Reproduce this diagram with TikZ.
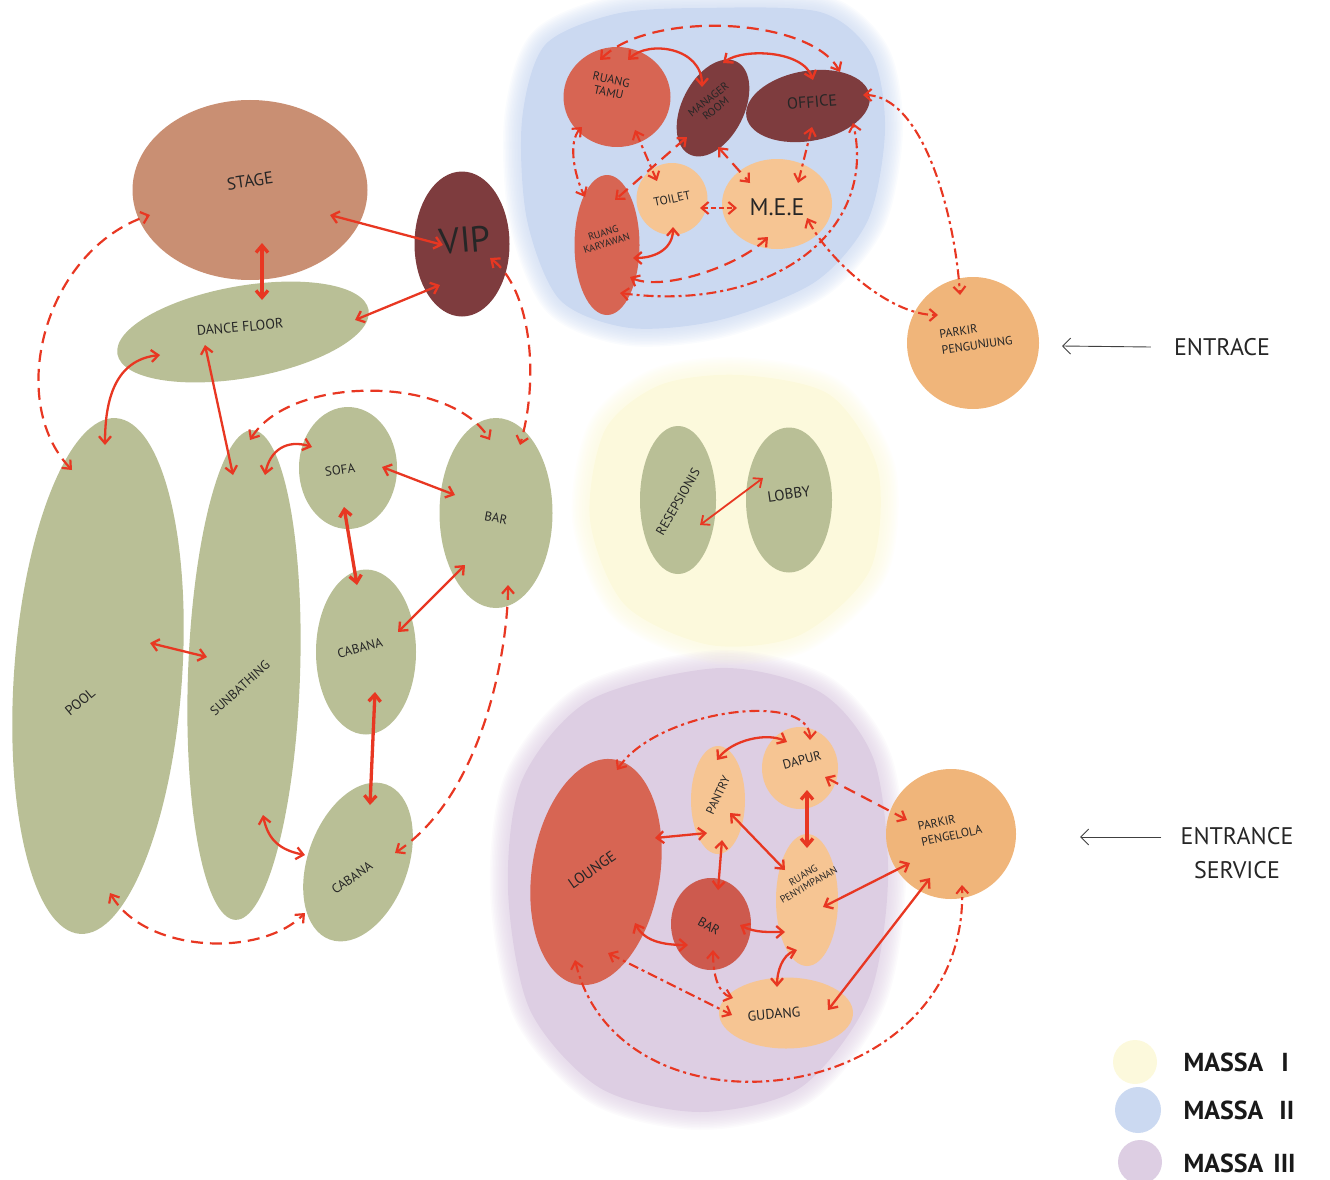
\documentclass[tikz,border=0pt]{standalone}
\usepackage{fontspec}
\setmainfont{PT Sans}
\usepackage{tikz}
\usetikzlibrary{arrows.meta,positioning,calc,shapes.geometric}

\definecolor{linkred}{RGB}{232,55,34}
\definecolor{sage}{RGB}{185,191,150}
\definecolor{clay}{RGB}{201,143,115}
\definecolor{wine}{RGB}{126,60,62}
\definecolor{tomato}{RGB}{215,101,83}
\definecolor{brick}{RGB}{205,90,78}
\definecolor{peach}{RGB}{246,197,147}
\definecolor{apricot}{RGB}{240,181,122}
\definecolor{massaone}{RGB}{252,249,220}
\definecolor{massatwo}{RGB}{203,217,241}
\definecolor{massathree}{RGB}{221,206,227}

\newcommand\roomfont{\fontsize{13}{14}\selectfont}

\tikzset{
  room/.style={ellipse, inner sep=0pt, outer sep=0pt},
  tag/.style={font=\roomfont, text=black!85, align=center, inner sep=1pt},
  link/.style={draw=linkred, line width=2.3pt, <->},
  heavy/.style={link, line width=3.3pt},
  dashlink/.style={link, line width=2.2pt, dash pattern=on 12pt off 7pt},
  dotlink/.style={link, line width=2.1pt, dash pattern=on 10pt off 4pt on 3pt off 4pt},
  shortlink/.style={link, line width=2.1pt, dash pattern=on 5pt off 3pt},
  pointer/.style={draw=black!75, line width=0.9pt, -{Straight Barb[length=8pt,width=16pt]}},
  keyfont/.style={font=\fontsize{26}{28}\selectfont\bfseries, text=black!90},
}

\begin{document}
\begin{tikzpicture}[x=1pt,y=-1pt,>={Straight Barb[length=7pt,width=12pt]}]
\useasboundingbox (0,0) rectangle (1330,1180);

% the three building masses, soft edged
\path[save path=\zoneone] plot[smooth cycle] coordinates {(740,375) (830,395) (878,470) (870,570) (800,635) (710,645) (625,605) (590,520) (605,430) (660,385)};
\path[save path=\zonetwo] plot[smooth cycle] coordinates {(700,8) (820,12) (872,55) (885,130) (868,220) (815,282) (720,320) (630,328) (560,300) (527,220) (522,120) (545,45) (615,14)};
\path[save path=\zonethree] plot[smooth cycle] coordinates {(720,668) (820,692) (874,760) (888,880) (868,1000) (800,1088) (700,1112) (600,1088) (530,1010) (508,890) (522,780) (590,700)};
\foreach \w in {3,6,...,36}{
  \draw[massaone, line width=\w, opacity=.09, use path=\zoneone];
  \draw[massatwo, line width=\w, opacity=.09, use path=\zonetwo];
  \draw[massathree, line width=\w, opacity=.09, use path=\zonethree];
}
\fill[massaone, use path=\zoneone];
\fill[massatwo, use path=\zonetwo];
\fill[massathree, use path=\zonethree];

% pool side
\node[room, fill=clay, minimum width=235, minimum height=180] (stage) at (250,190) {};
\node[room, fill=wine, minimum width=95, minimum height=145] (vip) at (462,244) {};
\node[room, fill=sage, minimum width=255, minimum height=92, rotate=10] (dance) at (243,332) {};
\node[room, fill=sage, minimum width=168, minimum height=517, rotate=-4] (pool) at (98,676) {};
\node[room, fill=sage, minimum width=112, minimum height=490, rotate=-2] (sun) at (244,675) {};
\node[room, fill=sage, minimum width=98, minimum height=122] (sofa) at (348,468) {};
\node[room, fill=sage, minimum width=113, minimum height=190] (bar) at (496,513) {};
\node[room, fill=sage, minimum width=100, minimum height=165] (cabana-a) at (366,652) {};
\node[room, fill=sage, minimum width=100, minimum height=165, rotate=-20] (cabana-b) at (358,862) {};

% massa II
\node[room, fill=tomato, minimum width=107, minimum height=100] (tamu) at (617,97) {};
\node[room, fill=wine, minimum width=62, minimum height=104, rotate=-27] (manager) at (713,108) {};
\node[room, fill=wine, minimum width=125, minimum height=70, rotate=10] (office) at (808,106) {};
\node[room, fill=tomato, minimum width=65, minimum height=140] (karyawan) at (607,245) {};
\node[room, fill=peach, minimum width=71, minimum height=72] (toilet) at (672,199) {};
\node[room, fill=peach, minimum width=110, minimum height=90] (mee) at (777,204) {};
\node[room, fill=apricot, minimum width=132, minimum height=132] (parkir-tamu) at (973,343) {};

% massa I
\node[room, fill=sage, minimum width=76, minimum height=148] (resepsionis) at (678,500) {};
\node[room, fill=sage, minimum width=86, minimum height=145] (lobby) at (789,500) {};

% massa III
\node[room, fill=tomato, minimum width=128, minimum height=228, rotate=-9] (lounge) at (596,872) {};
\node[room, fill=peach, minimum width=54, minimum height=108] (pantry) at (718,800) {};
\node[room, fill=peach, minimum width=76, minimum height=82] (dapur) at (800,768) {};
\node[room, fill=brick, minimum width=80, minimum height=92] (bar-dalam) at (711,924) {};
\node[room, fill=peach, minimum width=62, minimum height=132] (simpan) at (807,900) {};
\node[room, fill=peach, minimum width=134, minimum height=71] (gudang) at (786,1013) {};
\node[room, fill=apricot, minimum width=130, minimum height=130] (parkir-staf) at (951,834) {};

% room names
\node[tag, font=\fontsize{17}{18}\selectfont, rotate=8] (stage-label) at (250,181) {STAGE};
\node[tag, font=\fontsize{36}{38}\selectfont, rotate=5] (vip-label) at (465,240) {VIP};
\node[tag, font=\fontsize{14}{15}\selectfont, rotate=5] (dance-label) at (240,327) {DANCE FLOOR};
\node[tag, font=\fontsize{14}{15}\selectfont, rotate=40] (pool-label) at (80,702) {POOL};
\node[tag, rotate=42] (sun-label) at (240,688) {SUNBATHING};
\node[tag, rotate=8] (sofa-label) at (340,470) {SOFA};
\node[tag, rotate=-10] (bar-label) at (496,518) {BAR};
\node[tag, rotate=15] (cabana-a-label) at (360,648) {CABANA};
\node[tag, rotate=35] (cabana-b-label) at (352,878) {CABANA};

\node[tag, font=\fontsize{12}{13}\selectfont, rotate=-12] (tamu-label) at (610,86) {RUANG\\TAMU};
\node[tag, font=\fontsize{11}{12}\selectfont, rotate=38] (manager-label) at (712,104) {MANAGER\\ROOM};
\node[tag, font=\fontsize{16}{17}\selectfont, rotate=5] (office-label) at (812,102) {OFFICE};
\node[tag, font=\fontsize{10}{11}\selectfont, rotate=18] (karyawan-label) at (605,238) {RUANG\\KARYAWAN};
\node[tag, font=\fontsize{12}{13}\selectfont, rotate=12] (toilet-label) at (672,199) {TOILET};
\node[tag, font=\fontsize{24}{26}\selectfont] (mee-label) at (777,207) {M.E.E};
\node[tag, font=\fontsize{12}{16}\selectfont, align=left, rotate=8] (parkir-tamu-label) at (976,337) {PARKIR\\PENGUNJUNG};

\node[tag, rotate=60] (resepsionis-label) at (678,502) {RESEPSIONIS};
\node[tag, font=\fontsize{15}{16}\selectfont, rotate=8] (lobby-label) at (789,494) {LOBBY};

\node[tag, font=\fontsize{15}{16}\selectfont, rotate=35] (lounge-label) at (592,870) {LOUNGE};
\node[tag, font=\fontsize{12}{13}\selectfont, rotate=65] (pantry-label) at (718,795) {PANTRY};
\node[tag, rotate=15] (dapur-label) at (802,760) {DAPUR};
\node[tag, rotate=-30] (bar-dalam-label) at (709,926) {BAR};
\node[tag, font=\fontsize{10}{11}\selectfont, rotate=30] (simpan-label) at (806,880) {RUANG\\PENYIMPANAN};
\node[tag, font=\fontsize{14}{15}\selectfont, rotate=5] (gudang-label) at (774,1014) {GUDANG};
\node[tag, font=\fontsize{12}{16}\selectfont, align=left, rotate=12] (parkir-staf-label) at (950,828) {PARKIR\\PENGELOLA};

% links, pool side
\draw[heavy] ($(stage)+(12,53)$) -- ($(dance)+(19,-32)$);
\draw[link] ($(stage)+(80,25)$) -- ($(vip)+(-19,1)$);
\draw[link] ($(vip)+(-22,41)$) -- ($(dance)+(112,-12)$);
\draw[dashlink] ($(pool)+(-26,-206)$) .. controls +(-67,-70) and +(-105,35) .. ($(stage)+(-100,25)$);
\draw[dashlink] ($(vip)+(28,14)$) .. controls +(40,30) and +(20,-70) .. ($(bar)+(24,-68)$);
\draw[link] ($(dance)+(-83,23)$) .. controls +(-45,5) and +(0,-45) .. ($(pool)+(7,-231)$);
\draw[link] ($(dance)+(-38,13)$) -- ($(sun)+(-11,-200)$);
\draw[dashlink] ($(sun)+(6,-235)$) .. controls +(40,-65) and +(-40,-65) .. ($(bar)+(-6,-73)$);
\draw[link] ($(sun)+(21,-200)$) .. controls +(5,-25) and +(-25,-8) .. ($(sofa)+(-36,-21)$);
\draw[link] ($(sofa)+(34,-1)$) -- ($(bar)+(-41,-18)$);
\draw[heavy] ($(sofa)+(-4,39)$) -- ($(cabana-a)+(-9,-67)$);
\draw[link] ($(bar)+(-31,52)$) -- ($(cabana-a)+(32,-20)$);
\draw[link] ($(pool)+(52,-33)$) -- ($(sun)+(-37,-18)$);
\draw[heavy] ($(cabana-a)+(9,40)$) -- ($(cabana-b)+(12,-57)$);
\draw[link] ($(sun)+(19,140)$) .. controls +(5,25) and +(-25,-5) .. ($(cabana-b)+(-53,-7)$);
\draw[dashlink] ($(bar)+(12,72)$) .. controls +(0,60) and +(90,-60) .. ($(cabana-b)+(37,-9)$);
\draw[dashlink] ($(pool)+(12,217)$) .. controls +(35,60) and +(-45,45) .. ($(cabana-b)+(-53,51)$);

% links, massa II
\draw[link] ($(tamu)+(11,-37)$) .. controls +(20,-20) and +(0,-40) .. ($(manager)+(-11,-21)$);
\draw[link] ($(manager)+(10,-45)$) .. controls +(20,-15) and +(-10,-30) .. ($(office)+(5,-26)$);
\draw[dashlink] ($(tamu)+(-17,-37)$) .. controls +(50,-50) and +(-30,-55) .. ($(office)+(32,-34)$);
\draw[dotlink] ($(tamu)+(-35,30)$) .. controls +(-15,15) and +(-10,-20) .. ($(karyawan)+(-22,-48)$);
\draw[dotlink] ($(tamu)+(18,33)$) -- ($(toilet)+(-15,-18)$);
\draw[dashlink] ($(manager)+(-26,29)$) -- ($(karyawan)+(8,-45)$);
\draw[dashlink] ($(manager)+(5,39)$) -- ($(mee)+(-27,-21)$);
\draw[dotlink] ($(office)+(4,21)$) -- ($(mee)+(21,-21)$);
\draw[shortlink] ($(toilet)+(28,9)$) -- ($(mee)+(-40,4)$);
\draw[link] ($(karyawan)+(26,13)$) .. controls +(25,0) and +(0,20) .. ($(toilet)+(1,28)$);
\draw[dashlink] ($(karyawan)+(23,32)$) .. controls +(30,15) and +(-30,30) .. ($(mee)+(-9,33)$);
\draw[dotlink] ($(karyawan)+(13,48)$) .. controls +(150,20) and +(25,110) .. ($(office)+(45,17)$);
\draw[dotlink] ($(office)+(55,-11)$) .. controls +(60,0) and +(-5,-80) .. ($(parkir-tamu)+(-13,-48)$);
\draw[dotlink] ($(mee)+(30,14)$) .. controls +(20,40) and +(-50,0) .. ($(parkir-tamu)+(-35,-28)$);

% links, massa I
\draw[link, line width=1.8pt] ($(resepsionis)+(22,25)$) -- ($(lobby)+(-26,-22)$);

% links, massa III
\draw[dotlink] ($(lounge)+(21,-102)$) .. controls +(40,-60) and +(0,-50) .. ($(dapur)+(10,-28)$);
\draw[link] ($(pantry)+(-1,-40)$) .. controls +(15,-20) and +(-20,-10) .. ($(dapur)+(-13,-26)$);
\draw[link] ($(lounge)+(59,-34)$) -- ($(pantry)+(-11,33)$);
\draw[link] ($(pantry)+(4,40)$) -- ($(bar-dalam)+(7,-34)$);
\draw[link] ($(pantry)+(12,13)$) -- ($(simpan)+(-22,-30)$);
\draw[heavy] ($(dapur)+(7,22)$) -- ($(simpan)+(0,-52)$);
\draw[dashlink] ($(dapur)+(25,9)$) -- ($(parkir-staf)+(-44,-14)$);
\draw[link] ($(simpan)+(16,7)$) -- ($(parkir-staf)+(-41,29)$);
\draw[link] ($(lounge)+(39,51)$) .. controls +(10,20) and +(-20,0) .. ($(bar-dalam)+(-23,21)$);
\draw[link] ($(bar-dalam)+(29,1)$) .. controls +(15,8) and +(-15,0) .. ($(simpan)+(-22,32)$);
\draw[dotlink] ($(bar-dalam)+(2,26)$) .. controls +(0,25) and +(-15,-5) .. ($(gudang)+(-53,-15)$);
\draw[link] ($(simpan)+(-10,50)$) .. controls +(-15,5) and +(0,-15) .. ($(gudang)+(-9,-26)$);
\draw[dotlink] ($(lounge)+(12,81)$) -- ($(gudang)+(-54,2)$);
\draw[link] ($(parkir-staf)+(-21,44)$) -- ($(gudang)+(42,-3)$);
\draw[dotlink] ($(lounge)+(-21,88)$) .. controls +(45,190) and +(8,225) .. ($(parkir-staf)+(11,51)$);

% entrances
\node[tag, font=\fontsize{24}{26}\selectfont] (entrace-label) at (1222,347) {ENTRACE};
\coordinate (entrace-in) at (1062,346);
\draw[pointer] ([xshift=-22pt]entrace-label.west) -- (entrace-in);

\node[tag, font=\fontsize{24}{34}\selectfont] (service-label) at (1237,853) {ENTRANCE\\SERVICE};
\coordinate (service-in) at (1080,837);
\draw[pointer] ([xshift=-18pt,yshift=16pt]service-label.west) -- (service-in);

% legend
\node[circle, fill=massaone, minimum size=44] (key-one) at (1135,1062) {};
\node[circle, fill=massatwo, minimum size=46] (key-two) at (1138,1110) {};
\node[circle, fill=massathree, minimum size=44] (key-three) at (1140,1162) {};
\node[keyfont, anchor=west] (key-one-label) at (1180,1062) {MASSA\hspace{18pt}I};
\node[keyfont, anchor=west] (key-two-label) at (1180,1110) {MASSA\hspace{16pt}II};
\node[keyfont, anchor=west] (key-three-label) at (1180,1163) {MASSA\hspace{10pt}III};

\end{tikzpicture}
\end{document}
